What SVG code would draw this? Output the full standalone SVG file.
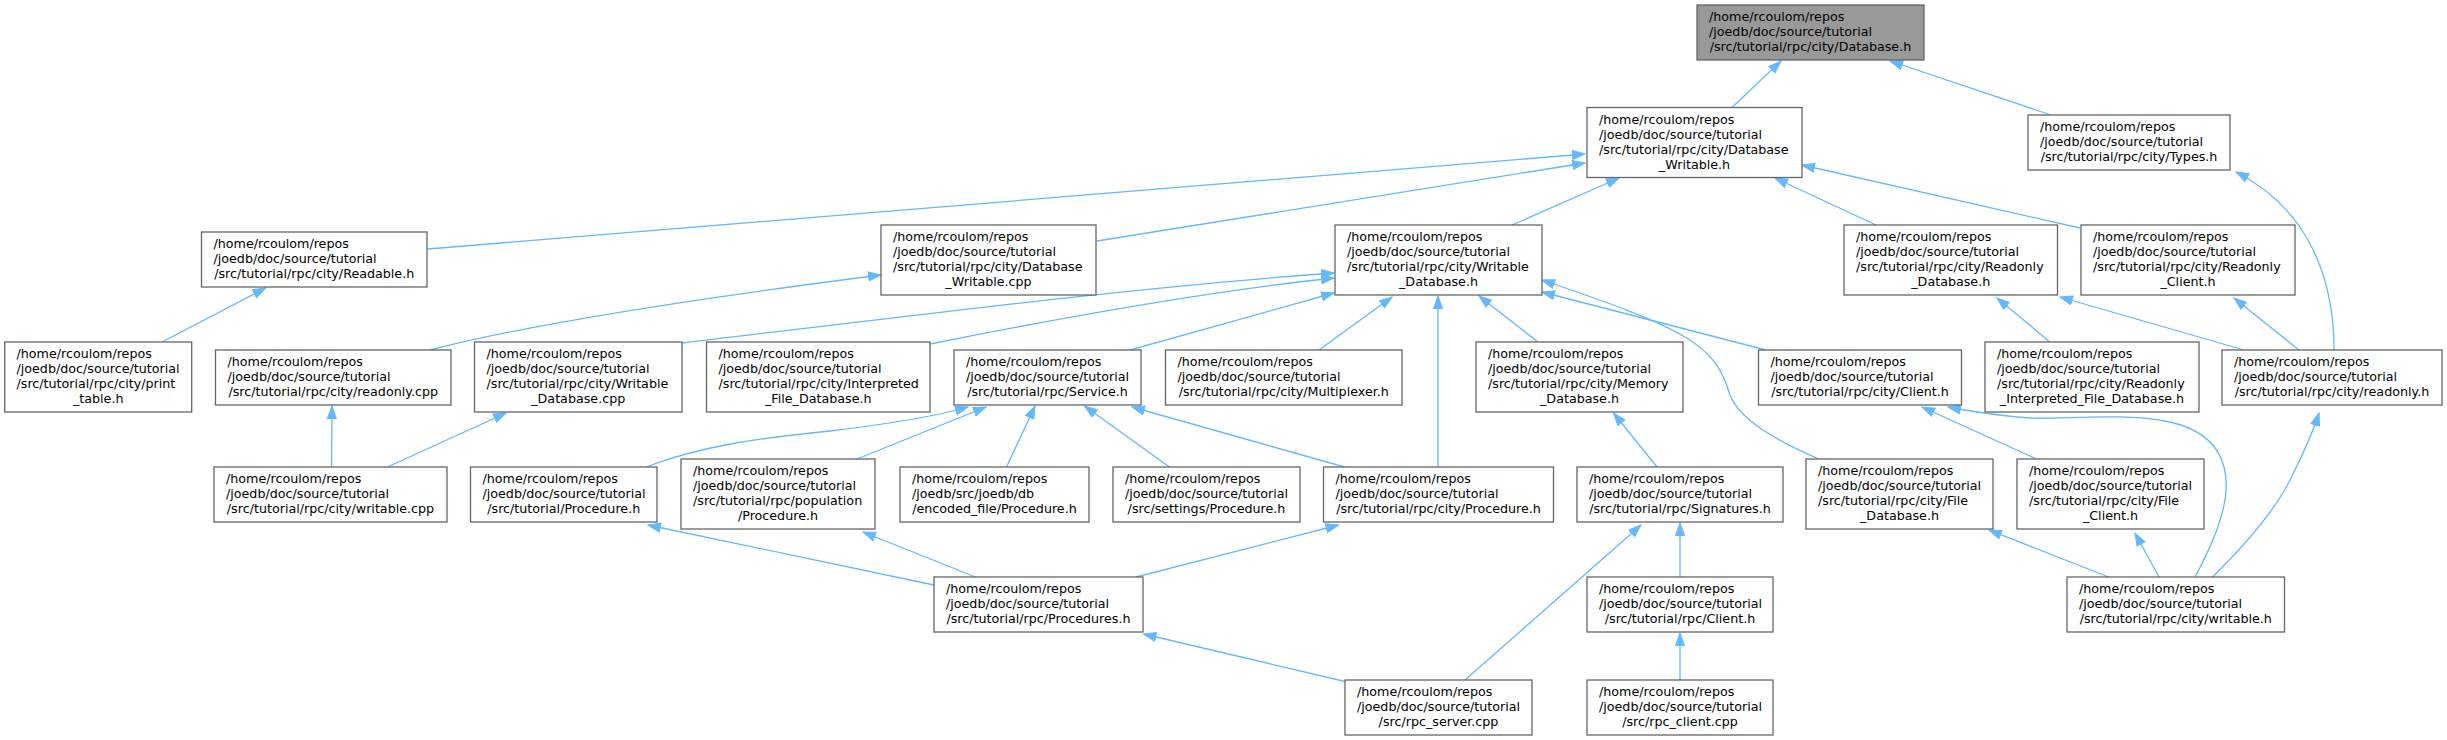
<svg xmlns="http://www.w3.org/2000/svg" width="2447" height="740" viewBox="0 0 2447 740">
<style>
rect{fill:#ffffff;stroke:#666666;stroke-width:1.3}
rect.root{fill:#999999}
text{font-family:"DejaVu Sans","Liberation Sans",sans-serif;font-size:12.7px;fill:#000000}
text.c{text-anchor:middle}
#edges path{fill:none;stroke:#63b8ff;stroke-width:1.3;marker-end:url(#a)}
</style>
<defs>
<marker id="a" markerUnits="userSpaceOnUse" markerWidth="14" markerHeight="11" refX="13" refY="5.5" orient="auto">
<path d="M0.5,1 L13,5.5 L0.5,10 z" fill="#63b8ff" stroke="#63b8ff" stroke-width="1"/>
</marker>
</defs>
<rect x="0" y="0" width="2447" height="740" style="fill:#ffffff;stroke:none"/>
<g id="edges">
<path d="M1732,107.5 L1781,61"/>
<path d="M2051,115 L1890,61"/>
<path d="M428,249 L1585,154"/>
<path d="M1097,241 L1585,163"/>
<path d="M1512,225 L1619,178"/>
<path d="M1876,225 L1775,178"/>
<path d="M2080,228 L1802,165"/>
<path d="M162,342 L265.5,288"/>
<path d="M430,350 C530,324 700,298 881,275"/>
<path d="M682,343 C950,311 1150,286 1334,273"/>
<path d="M930,344 C1080,314 1220,290 1334,278"/>
<path d="M1130,350 L1334,293"/>
<path d="M1319,350 L1392,297"/>
<path d="M1438,467 L1438,296"/>
<path d="M1538,342 L1479,296"/>
<path d="M1766,350 L1542,292"/>
<path d="M1819,459 C1775,440 1740,420 1730,395 C1715,345 1690,330 1542,280"/>
<path d="M331.5,467 L332,406"/>
<path d="M387.5,467 L506,413"/>
<path d="M646,467 C700,446 760,438 830,431 C880,425 930,418 968,407"/>
<path d="M857,459 L986,407"/>
<path d="M1006.5,467 L1035,406"/>
<path d="M1169.5,467 L1084.5,406"/>
<path d="M1344.5,467 L1132,407"/>
<path d="M934,585 L648,525"/>
<path d="M975.5,577 L863,532"/>
<path d="M1136,577 L1338.5,525"/>
<path d="M1345,681.5 L1143.5,634"/>
<path d="M1465,680 L1641,525"/>
<path d="M1680,577 L1680,523"/>
<path d="M1680,680 L1680,633"/>
<path d="M1657,467 L1613.5,413"/>
<path d="M2036.5,459 L1922,407"/>
<path d="M2195,577 C2215,540 2228,505 2226,480 C2224,450 2205,430 2170,422 C2120,412 2060,420 2030,418 C2000,416 1975,412 1948,407"/>
<path d="M2212.5,577 C2245,545 2275,510 2290,480 C2302,456 2312,435 2319,413"/>
<path d="M2108.5,577 L1989,530"/>
<path d="M2159,577 L2135,533"/>
<path d="M2334,350 C2334,280 2310,210 2236,172"/>
<path d="M2244,350 L2060,297"/>
<path d="M2299,350 L2234,298"/>
<path d="M2050,342 L1997,298"/>
</g>
<g id="n1"><rect class="root" x="1697" y="5" width="227" height="55"/><text x="1709" y="21">/home/rcoulom/repos</text><text x="1709" y="36">/joedb/doc/source/tutorial</text><text class="c" x="1810.5" y="51">/src/tutorial/rpc/city/Database.h</text></g>
<g id="n2"><rect x="1587" y="107.5" width="215" height="70"/><text x="1599" y="123.5">/home/rcoulom/repos</text><text x="1599" y="138.5">/joedb/doc/source/tutorial</text><text x="1599" y="153.5">/src/tutorial/rpc/city/Database</text><text class="c" x="1694.5" y="168.5">_Writable.h</text></g>
<g id="n3"><rect x="2028" y="115" width="202" height="55"/><text x="2040" y="131">/home/rcoulom/repos</text><text x="2040" y="146">/joedb/doc/source/tutorial</text><text class="c" x="2129" y="161">/src/tutorial/rpc/city/Types.h</text></g>
<g id="n4"><rect x="201.5" y="232" width="225.5" height="55"/><text x="213.5" y="248">/home/rcoulom/repos</text><text x="213.5" y="263">/joedb/doc/source/tutorial</text><text class="c" x="314.25" y="278">/src/tutorial/rpc/city/Readable.h</text></g>
<g id="n5"><rect x="881" y="225" width="215" height="70"/><text x="893" y="241">/home/rcoulom/repos</text><text x="893" y="256">/joedb/doc/source/tutorial</text><text x="893" y="271">/src/tutorial/rpc/city/Database</text><text class="c" x="988.5" y="286">_Writable.cpp</text></g>
<g id="n6"><rect x="1335" y="225" width="207" height="70"/><text x="1347" y="241">/home/rcoulom/repos</text><text x="1347" y="256">/joedb/doc/source/tutorial</text><text x="1347" y="271">/src/tutorial/rpc/city/Writable</text><text class="c" x="1438.5" y="286">_Database.h</text></g>
<g id="n7"><rect x="1844" y="225" width="213.5" height="70"/><text x="1856" y="241">/home/rcoulom/repos</text><text x="1856" y="256">/joedb/doc/source/tutorial</text><text x="1856" y="271">/src/tutorial/rpc/city/Readonly</text><text class="c" x="1950.75" y="286">_Database.h</text></g>
<g id="n8"><rect x="2081" y="225" width="214" height="70"/><text x="2093" y="241">/home/rcoulom/repos</text><text x="2093" y="256">/joedb/doc/source/tutorial</text><text x="2093" y="271">/src/tutorial/rpc/city/Readonly</text><text class="c" x="2188" y="286">_Client.h</text></g>
<g id="n9"><rect x="4.7" y="342" width="187" height="70"/><text x="16.5" y="358">/home/rcoulom/repos</text><text x="16.5" y="373">/joedb/doc/source/tutorial</text><text x="16.5" y="388">/src/tutorial/rpc/city/print</text><text class="c" x="98.2" y="403">_table.h</text></g>
<g id="n10"><rect x="215.5" y="350" width="235.5" height="55"/><text x="227.5" y="366">/home/rcoulom/repos</text><text x="227.5" y="381">/joedb/doc/source/tutorial</text><text class="c" x="333.25" y="396">/src/tutorial/rpc/city/readonly.cpp</text></g>
<g id="n11"><rect x="474.5" y="342" width="207.5" height="70"/><text x="486.5" y="358">/home/rcoulom/repos</text><text x="486.5" y="373">/joedb/doc/source/tutorial</text><text x="486.5" y="388">/src/tutorial/rpc/city/Writable</text><text class="c" x="578.25" y="403">_Database.cpp</text></g>
<g id="n12"><rect x="706.5" y="342" width="223.5" height="70"/><text x="718.5" y="358">/home/rcoulom/repos</text><text x="718.5" y="373">/joedb/doc/source/tutorial</text><text x="718.5" y="388">/src/tutorial/rpc/city/Interpreted</text><text class="c" x="818.25" y="403">_File_Database.h</text></g>
<g id="n13"><rect x="954" y="350" width="187" height="55"/><text x="966" y="366">/home/rcoulom/repos</text><text x="966" y="381">/joedb/doc/source/tutorial</text><text class="c" x="1047.5" y="396">/src/tutorial/rpc/Service.h</text></g>
<g id="n14"><rect x="1165.5" y="350" width="236.5" height="55"/><text x="1177.5" y="366">/home/rcoulom/repos</text><text x="1177.5" y="381">/joedb/doc/source/tutorial</text><text class="c" x="1283.75" y="396">/src/tutorial/rpc/city/Multiplexer.h</text></g>
<g id="n15"><rect x="1476" y="342" width="207" height="70"/><text x="1488" y="358">/home/rcoulom/repos</text><text x="1488" y="373">/joedb/doc/source/tutorial</text><text x="1488" y="388">/src/tutorial/rpc/city/Memory</text><text class="c" x="1579.5" y="403">_Database.h</text></g>
<g id="n16"><rect x="1758.5" y="350" width="203" height="55"/><text x="1770.5" y="366">/home/rcoulom/repos</text><text x="1770.5" y="381">/joedb/doc/source/tutorial</text><text class="c" x="1860" y="396">/src/tutorial/rpc/city/Client.h</text></g>
<g id="n17"><rect x="1985" y="342" width="214" height="70"/><text x="1997" y="358">/home/rcoulom/repos</text><text x="1997" y="373">/joedb/doc/source/tutorial</text><text x="1997" y="388">/src/tutorial/rpc/city/Readonly</text><text class="c" x="2092" y="403">_Interpreted_File_Database.h</text></g>
<g id="n18"><rect x="2222" y="350" width="220" height="55"/><text x="2234" y="366">/home/rcoulom/repos</text><text x="2234" y="381">/joedb/doc/source/tutorial</text><text class="c" x="2332" y="396">/src/tutorial/rpc/city/readonly.h</text></g>
<g id="n19"><rect x="214" y="467" width="233" height="55"/><text x="226" y="483">/home/rcoulom/repos</text><text x="226" y="498">/joedb/doc/source/tutorial</text><text class="c" x="330.5" y="513">/src/tutorial/rpc/city/writable.cpp</text></g>
<g id="n20"><rect x="470.5" y="467" width="186.5" height="55"/><text x="482.5" y="483">/home/rcoulom/repos</text><text x="482.5" y="498">/joedb/doc/source/tutorial</text><text class="c" x="563.75" y="513">/src/tutorial/Procedure.h</text></g>
<g id="n21"><rect x="681" y="459" width="194" height="70"/><text x="693" y="475">/home/rcoulom/repos</text><text x="693" y="490">/joedb/doc/source/tutorial</text><text x="693" y="505">/src/tutorial/rpc/population</text><text class="c" x="778" y="520">/Procedure.h</text></g>
<g id="n22"><rect x="900" y="467" width="189" height="55"/><text x="912" y="483">/home/rcoulom/repos</text><text x="912" y="498">/joedb/src/joedb/db</text><text class="c" x="994.5" y="513">/encoded_file/Procedure.h</text></g>
<g id="n23"><rect x="1113" y="467" width="187" height="55"/><text x="1125" y="483">/home/rcoulom/repos</text><text x="1125" y="498">/joedb/doc/source/tutorial</text><text class="c" x="1206.5" y="513">/src/settings/Procedure.h</text></g>
<g id="n24"><rect x="1323.5" y="467" width="230" height="55"/><text x="1335.5" y="483">/home/rcoulom/repos</text><text x="1335.5" y="498">/joedb/doc/source/tutorial</text><text class="c" x="1438.5" y="513">/src/tutorial/rpc/city/Procedure.h</text></g>
<g id="n25"><rect x="1577" y="467" width="206" height="55"/><text x="1589" y="483">/home/rcoulom/repos</text><text x="1589" y="498">/joedb/doc/source/tutorial</text><text class="c" x="1680" y="513">/src/tutorial/rpc/Signatures.h</text></g>
<g id="n26"><rect x="1806" y="459" width="187" height="70"/><text x="1818" y="475">/home/rcoulom/repos</text><text x="1818" y="490">/joedb/doc/source/tutorial</text><text x="1818" y="505">/src/tutorial/rpc/city/File</text><text class="c" x="1899.5" y="520">_Database.h</text></g>
<g id="n27"><rect x="2017" y="459" width="187" height="70"/><text x="2029" y="475">/home/rcoulom/repos</text><text x="2029" y="490">/joedb/doc/source/tutorial</text><text x="2029" y="505">/src/tutorial/rpc/city/File</text><text class="c" x="2110.5" y="520">_Client.h</text></g>
<g id="n28"><rect x="934" y="577" width="209" height="55"/><text x="946" y="593">/home/rcoulom/repos</text><text x="946" y="608">/joedb/doc/source/tutorial</text><text class="c" x="1038.5" y="623">/src/tutorial/rpc/Procedures.h</text></g>
<g id="n29"><rect x="1587" y="577" width="186" height="55"/><text x="1599" y="593">/home/rcoulom/repos</text><text x="1599" y="608">/joedb/doc/source/tutorial</text><text class="c" x="1680" y="623">/src/tutorial/rpc/Client.h</text></g>
<g id="n30"><rect x="2067" y="577" width="217.5" height="55"/><text x="2079" y="593">/home/rcoulom/repos</text><text x="2079" y="608">/joedb/doc/source/tutorial</text><text class="c" x="2175.75" y="623">/src/tutorial/rpc/city/writable.h</text></g>
<g id="n31"><rect x="1345" y="680" width="187" height="55"/><text x="1357" y="696">/home/rcoulom/repos</text><text x="1357" y="711">/joedb/doc/source/tutorial</text><text class="c" x="1438.5" y="726">/src/rpc_server.cpp</text></g>
<g id="n32"><rect x="1587" y="680" width="186" height="55"/><text x="1599" y="696">/home/rcoulom/repos</text><text x="1599" y="711">/joedb/doc/source/tutorial</text><text class="c" x="1680" y="726">/src/rpc_client.cpp</text></g>
</svg>
